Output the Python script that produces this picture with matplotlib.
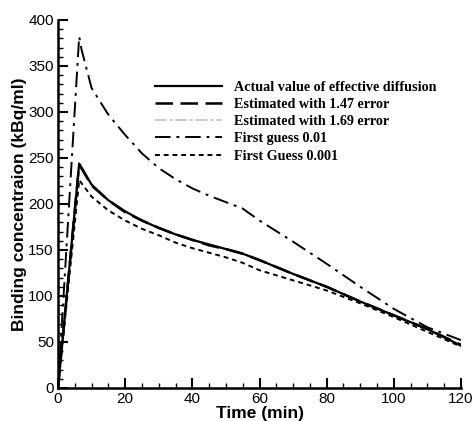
import matplotlib
matplotlib.use("Agg")
import matplotlib.pyplot as plt
from matplotlib.ticker import MultipleLocator

# time points (min)
tiempo = [0, 6.3, 10, 15, 20, 25, 30, 35, 40, 45, 50, 55, 60, 70, 80, 90, 100, 110, 120]
tiempo_g = [0, 6.3, 7, 10, 15, 20, 25, 30, 35, 40, 45, 50, 55, 60, 70, 80, 90, 100, 110, 120]

actual = [0, 244, 221, 204, 192, 182, 174, 167, 161, 156, 151, 146, 139, 124, 110, 94, 79, 64, 46]
est_147 = [0, 243, 220, 204, 191, 182, 174, 167, 161, 155, 151, 146, 139, 124, 110, 94, 79, 64, 47]
est_169 = [0, 244, 221, 204, 192, 182, 174, 167, 161, 156, 151, 146, 139, 124, 110, 94, 79, 64, 46]
guess_001 = [0, 382, 368, 326, 297, 275, 255, 239, 227, 217, 209, 202, 195, 182, 159, 135, 110, 86, 66, 52]
guess_0001 = [0, 226, 208, 193, 182, 173, 166, 158, 152, 147, 142, 136, 128, 117, 106, 92, 77, 61, 45]

etiquetas = ["Actual value of effective diffusion",
             "Estimated with 1.47 error",
             "Estimated with 1.69 error",
             "First guess 0.01",
             "First Guess 0.001"]

plt.rcParams['font.family'] = ['Liberation Sans', 'DejaVu Sans']

fig = plt.figure(figsize=(4.74, 4.21), dpi=100)
ax = fig.add_axes([0.1224, 0.0784, 0.8502, 0.8741])

ax.plot(tiempo, actual, color='black', lw=1.6, label=etiquetas[0], zorder=3)
ax.plot(tiempo, est_147, color='black', lw=1.8, dashes=(7, 3), label=etiquetas[1], zorder=3)
ax.plot(tiempo, est_169, color='#c8c8c8', lw=1.4, dashes=(6, 1.5, 1.5, 1.5), label=etiquetas[2], zorder=2)
ax.plot(tiempo_g, guess_001, color='black', lw=1.4, dashes=(8, 3, 1.5, 3), label=etiquetas[3], zorder=3)
ax.plot(tiempo, guess_0001, color='black', lw=1.4, dashes=(2.5, 2), label=etiquetas[4], zorder=3)

ax.set_xlim(0, 120)
ax.set_ylim(0, 400)
ax.xaxis.set_major_locator(MultipleLocator(20))
ax.xaxis.set_minor_locator(MultipleLocator(5))
ax.yaxis.set_major_locator(MultipleLocator(50))
ax.yaxis.set_minor_locator(MultipleLocator(10))
ax.tick_params(which='major', direction='in', length=7, width=1.5, labelsize=11, pad=3)
ax.tick_params(which='minor', direction='in', length=3.5, width=1)

for lado in ['top', 'right']:
    ax.spines[lado].set_visible(False)
for lado in ['left', 'bottom']:
    ax.spines[lado].set_linewidth(1.8)

ax.set_xlabel('Time (min)', fontsize=12.5, fontweight='bold', labelpad=0)
ax.set_ylabel('Binding concentraion (kBq/ml)', fontsize=12.5, fontweight='bold', labelpad=1)

ax.legend(loc='upper left', bbox_to_anchor=(0.24, 0.835), frameon=False,
          prop={'family': 'Liberation Serif', 'weight': 'bold', 'size': 10.15},
          handlelength=4.8, handletextpad=0.85, labelspacing=0.3,
          borderpad=0, borderaxespad=0)

fig.savefig('out.png', dpi=100)
